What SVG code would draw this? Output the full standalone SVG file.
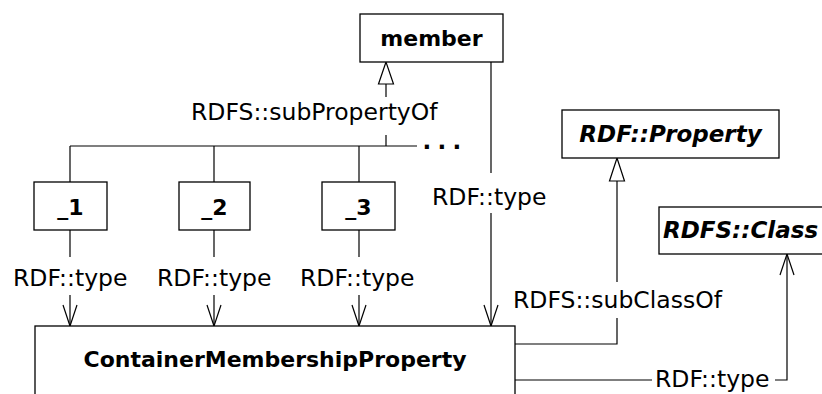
<svg xmlns="http://www.w3.org/2000/svg" width="822" height="394" viewBox="0 0 822 394">
<style>
.box{fill:#fff;stroke:#000;stroke-width:1.3}
.ln{fill:none;stroke:#000;stroke-width:1.2}
.tri{fill:#fff;stroke:#000;stroke-width:1.2}
.lbl{font-family:"DejaVu Sans",Verdana,sans-serif;font-size:23.5px;fill:#000}
.nb{font-family:"DejaVu Sans",Verdana,sans-serif;font-size:22px;font-weight:bold;fill:#000;text-anchor:middle}
.ni{font-family:"DejaVu Sans",Verdana,sans-serif;font-size:23px;font-weight:bold;font-style:italic;fill:#000;text-anchor:middle}
</style>
<rect width="822" height="394" fill="#fff"/>
<g id="connectors">
  <!-- subPropertyOf tree -->
  <polygon class="tri" points="386,62 378.5,84 393.5,84"/>
  <line class="ln" x1="386" y1="84" x2="386" y2="97"/>
  <line class="ln" x1="386" y1="135" x2="386" y2="146"/>
  <line class="ln" x1="70" y1="146" x2="417" y2="146"/>
  <line class="ln" x1="70" y1="146" x2="70" y2="182"/>
  <line class="ln" x1="214" y1="146" x2="214" y2="182"/>
  <line class="ln" x1="359" y1="146" x2="359" y2="182"/>
  <text class="lbl" x="191" y="120">RDFS::subPropertyOf</text>
  <text x="422.5" y="149" style="font-family:'DejaVu Sans',sans-serif;font-size:23px;font-weight:bold;letter-spacing:6.3px">...</text>
  <!-- RDF::type from _1, _2, _3 -->
  <line class="ln" x1="70" y1="230" x2="70" y2="257"/>
  <line class="ln" x1="70" y1="295" x2="70" y2="326"/>
  <polyline class="ln" points="63,305 70,326 77,305"/>
  <text class="lbl" x="13" y="286">RDF::type</text>
  <line class="ln" x1="214" y1="230" x2="214" y2="257"/>
  <line class="ln" x1="214" y1="295" x2="214" y2="326"/>
  <polyline class="ln" points="207,305 214,326 221,305"/>
  <text class="lbl" x="157" y="286">RDF::type</text>
  <line class="ln" x1="359" y1="230" x2="359" y2="257"/>
  <line class="ln" x1="359" y1="295" x2="359" y2="326"/>
  <polyline class="ln" points="352,305 359,326 366,305"/>
  <text class="lbl" x="300" y="286">RDF::type</text>
  <!-- RDF::type from member -->
  <line class="ln" x1="491" y1="62" x2="491" y2="173"/>
  <line class="ln" x1="491" y1="213" x2="491" y2="326"/>
  <polyline class="ln" points="484,305 491,326 498,305"/>
  <text class="lbl" x="432" y="205">RDF::type</text>
  <!-- subClassOf -->
  <polyline class="ln" points="515,344 617,344 617,318"/>
  <line class="ln" x1="617" y1="282" x2="617" y2="181"/>
  <polygon class="tri" points="617,158 609.5,181 624.5,181"/>
  <text class="lbl" x="513" y="308">RDFS::subClassOf</text>
  <!-- RDF::type to RDFS::Class -->
  <line class="ln" x1="515" y1="380" x2="652" y2="380"/>
  <polyline class="ln" points="775,380 787,380 787,254"/>
  <polyline class="ln" points="780,275 787,254 794,275"/>
  <text class="lbl" x="655" y="387">RDF::type</text>
</g>
<g id="member">
  <rect class="box" x="360" y="14" width="143" height="48"/>
  <text class="nb" x="431.5" y="46">member</text>
</g>
<g id="n1">
  <rect class="box" x="34" y="182" width="73" height="48"/>
  <text class="nb" x="70.5" y="215">_1</text>
</g>
<g id="n2">
  <rect class="box" x="179" y="182" width="71" height="48"/>
  <text class="nb" x="214.5" y="215">_2</text>
</g>
<g id="n3">
  <rect class="box" x="322" y="182" width="73" height="48"/>
  <text class="nb" x="358.5" y="215">_3</text>
</g>
<g id="rdfProperty">
  <rect class="box" x="562" y="110" width="217" height="48"/>
  <text class="ni" x="670.5" y="142">RDF::Property</text>
</g>
<g id="rdfsClass">
  <rect class="box" x="659" y="207" width="180" height="47"/>
  <text class="ni" x="663" y="238" style="text-anchor:start">RDFS::Class</text>
</g>
<g id="cmp">
  <rect class="box" x="35" y="326" width="480" height="100"/>
  <text class="nb" x="275" y="367">ContainerMembershipProperty</text>
</g>
</svg>
